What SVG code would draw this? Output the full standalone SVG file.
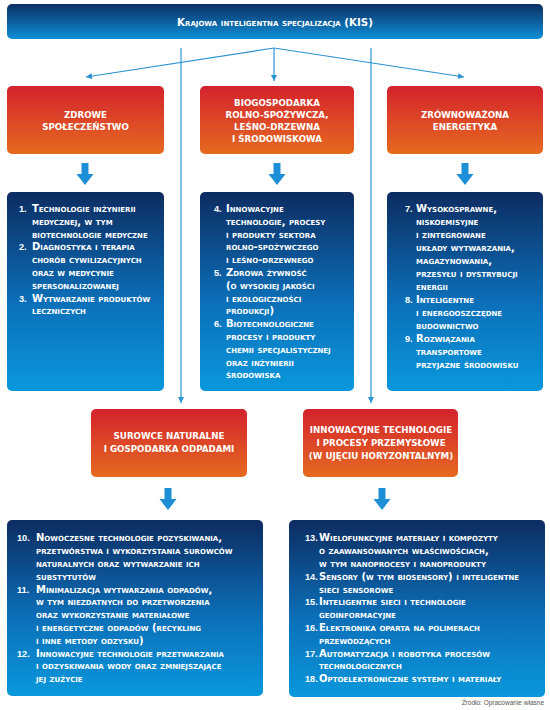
<svg xmlns="http://www.w3.org/2000/svg" xmlns:xlink="http://www.w3.org/1999/xlink" width="550" height="710" viewBox="0 0 550 710">
<defs>
<linearGradient id="gBlue" x1="0" y1="0" x2="0" y2="1">
<stop offset="0" stop-color="#0d2c61"/>
<stop offset="0.55" stop-color="#0b6fb8"/>
<stop offset="1" stop-color="#0a98dc"/>
</linearGradient>
<linearGradient id="gTop" x1="0" y1="0" x2="0" y2="1">
<stop offset="0" stop-color="#0c2f63"/>
<stop offset="1" stop-color="#0d8fd6"/>
</linearGradient>
<linearGradient id="gRed" x1="0" y1="0" x2="0" y2="1">
<stop offset="0" stop-color="#d4222d"/>
<stop offset="1" stop-color="#e56a20"/>
</linearGradient>
<marker id="ah" markerWidth="8" markerHeight="8" refX="6" refY="3" orient="auto" markerUnits="userSpaceOnUse">
<path d="M0,0 L6,3 L0,6 Z" fill="#2b93d4"/>
</marker>
<path id="bigArrow" d="M-3.5,0 H3.5 V11 H8.5 L0,22 L-8.5,11 H-3.5 Z" fill="#1c8fd6"/>
</defs>
<style>
.t{font-family:"DejaVu Sans",sans-serif;font-weight:bold;fill:#fff}
.sc{font-variant:small-caps;font-size:10px}
.n{font-family:"Liberation Sans",sans-serif;font-weight:bold;font-size:9.2px;fill:#fff}
.hd{font-size:8.7px;text-anchor:middle}
.ttl{font-variant:small-caps;font-size:10.3px;text-anchor:middle}
.ln{stroke:#2b93d4;stroke-width:1.2;fill:none}
.src{font-family:"Liberation Sans",sans-serif;font-size:6.5px;fill:#555}
</style>

<g id="connectors">
<line class="ln" x1="274" y1="48" x2="86" y2="77" marker-end="url(#ah)"/>
<line class="ln" x1="274" y1="48" x2="274" y2="81" marker-end="url(#ah)"/>
<line class="ln" x1="274" y1="48" x2="464" y2="77" marker-end="url(#ah)"/>
<line class="ln" x1="181" y1="48" x2="181" y2="403" marker-end="url(#ah)"/>
<line class="ln" x1="371" y1="48" x2="371" y2="403" marker-end="url(#ah)"/>
<use xlink:href="#bigArrow" x="85" y="163"/>
<use xlink:href="#bigArrow" x="277" y="163"/>
<use xlink:href="#bigArrow" x="465" y="163"/>
<use xlink:href="#bigArrow" x="168" y="488"/>
<use xlink:href="#bigArrow" x="382" y="488"/>
</g>

<g id="kis">
<rect x="7" y="4" width="536" height="35" rx="5" fill="url(#gTop)"/>
<text class="t ttl" x="275" y="25.5">Krajowa inteligentna specjalizacja (KIS)</text>
</g>

<g id="zdrowe">
<rect x="7" y="86" width="157" height="68" rx="5" fill="url(#gRed)"/>
<text class="t hd" x="85.5" y="118">ZDROWE</text>
<text class="t hd" x="85.5" y="130">SPOŁECZEŃSTWO</text>
</g>

<g id="biogospodarka">
<rect x="200" y="86" width="154" height="68" rx="5" fill="url(#gRed)"/>
<text class="t hd" x="277" y="105.5">BIOGOSPODARKA</text>
<text class="t hd" x="277" y="117.7">ROLNO-SPOŻYWCZA,</text>
<text class="t hd" x="277" y="129.9">LEŚNO-DRZEWNA</text>
<text class="t hd" x="277" y="142.1">I ŚRODOWISKOWA</text>
</g>

<g id="energetyka">
<rect x="387" y="86" width="156" height="68" rx="5" fill="url(#gRed)"/>
<text class="t hd" x="465" y="118">ZRÓWNOWAŻONA</text>
<text class="t hd" x="465" y="130">ENERGETYKA</text>
</g>

<g id="list1">
<rect x="7" y="192" width="157" height="199" rx="5" fill="url(#gBlue)"/>
<text class="n"><tspan x="19" y="212">1.</tspan><tspan x="19" y="250.4">2.</tspan><tspan x="19" y="301.6">3.</tspan></text>
<text class="t sc">
<tspan x="32" y="212">Technologie inżynierii</tspan>
<tspan x="32" y="224.8">medycznej, w tym</tspan>
<tspan x="32" y="237.6">biotechnologie medyczne</tspan>
<tspan x="32" y="250.4">Diagnostyka i terapia</tspan>
<tspan x="32" y="263.2">chorób cywilizacyjnych</tspan>
<tspan x="32" y="276">oraz w medycynie</tspan>
<tspan x="32" y="288.8">spersonalizowanej</tspan>
<tspan x="32" y="301.6">Wytwarzanie produktów</tspan>
<tspan x="32" y="314.4">leczniczych</tspan>
</text>
</g>

<g id="list2">
<rect x="200" y="192" width="154" height="199" rx="5" fill="url(#gBlue)"/>
<text class="n"><tspan x="214" y="212">4.</tspan><tspan x="214" y="276">5.</tspan><tspan x="214" y="327.2">6.</tspan></text>
<text class="t sc">
<tspan x="226" y="212">Innowacyjne</tspan>
<tspan x="226" y="224.8">technologie, procesy</tspan>
<tspan x="226" y="237.6">i produkty sektora</tspan>
<tspan x="226" y="250.4">rolno-spożywczego</tspan>
<tspan x="226" y="263.2">i leśno-drzewnego</tspan>
<tspan x="226" y="276">Zdrowa żywność</tspan>
<tspan x="226" y="288.8">(o wysokiej jakości</tspan>
<tspan x="226" y="301.6">i ekologiczności</tspan>
<tspan x="226" y="314.4">produkcji)</tspan>
<tspan x="226" y="327.2">Biotechnologiczne</tspan>
<tspan x="226" y="340">procesy i produkty</tspan>
<tspan x="226" y="352.8">chemii specjalistycznej</tspan>
<tspan x="226" y="365.6">oraz inżynierii</tspan>
<tspan x="226" y="378.4">środowiska</tspan>
</text>
</g>

<g id="list3">
<rect x="387" y="192" width="156" height="199" rx="5" fill="url(#gBlue)"/>
<text class="n"><tspan x="405" y="212">7.</tspan><tspan x="405" y="303">8.</tspan><tspan x="405" y="342">9.</tspan></text>
<text class="t sc">
<tspan x="416" y="212">Wysokosprawne,</tspan>
<tspan x="416" y="225">niskoemisyjne</tspan>
<tspan x="416" y="238">i zintegrowane</tspan>
<tspan x="416" y="251">układy wytwarzania,</tspan>
<tspan x="416" y="264">magazynowania,</tspan>
<tspan x="416" y="277">przesyłu i dystrybucji</tspan>
<tspan x="416" y="290">energii</tspan>
<tspan x="416" y="303">Inteligentne</tspan>
<tspan x="416" y="316">i energooszczędne</tspan>
<tspan x="416" y="329">budownictwo</tspan>
<tspan x="416" y="342">Rozwiązania</tspan>
<tspan x="416" y="355">transportowe</tspan>
<tspan x="416" y="368">przyjazne środowisku</tspan>
</text>
</g>

<g id="surowce">
<rect x="91" y="409" width="156" height="68" rx="5" fill="url(#gRed)"/>
<text class="t hd" x="169" y="439">SUROWCE NATURALNE</text>
<text class="t hd" x="169" y="452">I GOSPODARKA ODPADAMI</text>
</g>

<g id="procesy">
<rect x="303" y="409" width="155" height="68" rx="5" fill="url(#gRed)"/>
<text class="t hd" x="381" y="433">INNOWACYJNE TECHNOLOGIE</text>
<text class="t hd" x="381" y="446">I PROCESY PRZEMYSŁOWE</text>
<text class="t hd" x="381" y="459">(W UJĘCIU HORYZONTALNYM)</text>
</g>

<g id="list4">
<rect x="7" y="520" width="256" height="176" rx="5" fill="url(#gBlue)"/>
<text class="n"><tspan x="17" y="541.3">10.</tspan><tspan x="17" y="592.5">11.</tspan><tspan x="17" y="656.5">12.</tspan></text>
<text class="t sc">
<tspan x="36" y="541.3">Nowoczesne technologie pozyskiwania,</tspan>
<tspan x="36" y="554.1">przetwórstwa i wykorzystania surowców</tspan>
<tspan x="36" y="566.9">naturalnych oraz wytwarzanie ich</tspan>
<tspan x="36" y="579.7">substytutów</tspan>
<tspan x="36" y="592.5">Minimalizacja wytwarzania odpadów,</tspan>
<tspan x="36" y="605.3">w tym niezdatnych do przetworzenia</tspan>
<tspan x="36" y="618.1">oraz wykorzystanie materiałowe</tspan>
<tspan x="36" y="630.9">i energetyczne odpadów (recykling</tspan>
<tspan x="36" y="643.7">i inne metody odzysku)</tspan>
<tspan x="36" y="656.5">Innowacyjne technologie przetwarzania</tspan>
<tspan x="36" y="669.3">i odzyskiwania wody oraz zmniejszające</tspan>
<tspan x="36" y="682.1">jej zużycie</tspan>
</text>
</g>

<g id="list5">
<rect x="289" y="520" width="256" height="177" rx="5" fill="url(#gBlue)"/>
<text class="n"><tspan x="305" y="541.3">13.</tspan><tspan x="305" y="579.7">14.</tspan><tspan x="305" y="605.3">15.</tspan><tspan x="305" y="630.9">16.</tspan><tspan x="305" y="656.5">17.</tspan><tspan x="305" y="682.1">18.</tspan></text>
<text class="t sc">
<tspan x="319" y="541.3">Wielofunkcyjne materiały i kompozyty</tspan>
<tspan x="319" y="554.1">o zaawansowanych właściwościach,</tspan>
<tspan x="319" y="566.9">w tym nanoprocesy i nanoprodukty</tspan>
<tspan x="319" y="579.7">Sensory (w tym biosensory) i inteligentne</tspan>
<tspan x="319" y="592.5">sieci sensorowe</tspan>
<tspan x="319" y="605.3">Inteligentne sieci i technologie</tspan>
<tspan x="319" y="618.1">geoinformacyjne</tspan>
<tspan x="319" y="630.9">Elektronika oparta na polimerach</tspan>
<tspan x="319" y="643.7">przewodzących</tspan>
<tspan x="319" y="656.5">Automatyzacja i robotyka procesów</tspan>
<tspan x="319" y="669.3">technologicznych</tspan>
<tspan x="319" y="682.1">Optoelektroniczne systemy i materiały</tspan>
</text>
</g>

<text class="src" x="544" y="705" text-anchor="end">Źródło: Opracowanie własne</text>
</svg>
